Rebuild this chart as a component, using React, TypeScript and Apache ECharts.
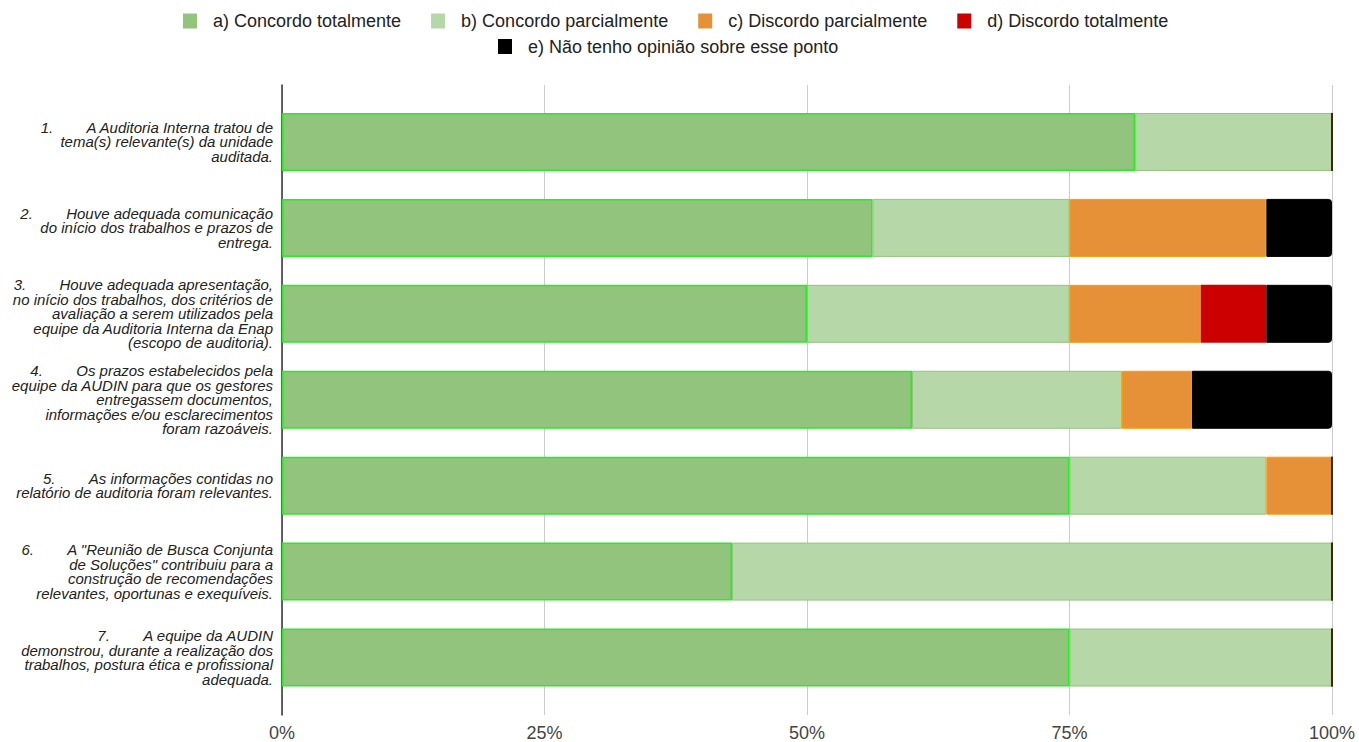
import React, { useEffect, useRef } from "react";
import * as echarts from "echarts";

const NB = "\u00a0";
const TAB = NB.repeat(8);

const categories: string[] = [
  `1.${TAB}A Auditoria Interna tratou de\ntema(s) relevante(s) da unidade\nauditada.`,
  `2.${TAB}Houve adequada comunicação\ndo início dos trabalhos e prazos de\nentrega.`,
  `3.${TAB}Houve adequada apresentação,\nno início dos trabalhos, dos critérios de\navaliação a serem utilizados pela\nequipe da Auditoria Interna da Enap\n(escopo de auditoria).`,
  `4.${TAB}Os prazos estabelecidos pela\nequipe da AUDIN para que os gestores\nentregassem documentos,\ninformações e/ou esclarecimentos\nforam razoáveis.`,
  `5.${TAB}As informações contidas no\nrelatório de auditoria foram relevantes.`,
  `6.${TAB}A "Reunião de Busca Conjunta\nde Soluções" contribuiu para a\nconstrução de recomendações\nrelevantes, oportunas e exequíveis.`,
  `7.${TAB}A equipe da AUDIN\ndemonstrou, durante a realização dos\ntrabalhos, postura ética e profissional\nadequada.`,
];

const seriesNames: string[] = [
  "a) Concordo totalmente",
  "b) Concordo parcialmente",
  "c) Discordo parcialmente",
  "d) Discordo totalmente",
  "e) Não tenho opinião sobre esse ponto",
];

const concordoTotal: number[] = [81.25, 56.25, 50, 60, 75, 42.86, 75];
const concordoParcial: number[] = [18.75, 18.75, 25, 20, 18.75, 57.14, 25];
const discordoParcial: number[] = [0, 18.75, 12.5, 6.67, 6.25, 0, 0];
const discordoTotal: number[] = [0, 0, 6.25, 0, 0, 0, 0];
const semOpiniao: number[] = [0, 6.25, 6.25, 13.33, 0, 0, 0];

const xTicks: number[] = [0, 25, 50, 75, 100];

const colors = ["#93c47d", "#b6d7a8", "#e69138", "#cc0000", "#000000"];
const borders = ["#22ee22", "#93c47d", "#ff9900", "#cc0000", "#000000"];

export default function App() {
  const ref = useRef<HTMLDivElement>(null);
  useEffect(() => {
    document.body.style.margin = "0";
    if (!ref.current) return;
    const chart = echarts.init(ref.current, undefined, { renderer: "svg" });
    const font = "'Liberation Sans', Arial, sans-serif";
    const values = [concordoTotal, concordoParcial, discordoParcial, discordoTotal, semOpiniao];
    const legendText = { fontFamily: font, fontSize: 18, color: "#222", padding: [0, 0, 0, 11] };
    const legendCommon = {
      padding: 0,
      icon: "rect",
      itemWidth: 14,
      itemHeight: 15,
      itemStyle: { borderWidth: 0 },
      textStyle: legendText,
      selectedMode: false,
    };
    const option: any = {
      animation: false,
      backgroundColor: "#ffffff",
      legend: [
        { ...legendCommon, data: seriesNames.slice(0, 4), left: 183, top: 12, itemGap: 30 },
        { ...legendCommon, data: seriesNames.slice(4), left: 498, top: 37.5 },
      ],
      grid: [
        { left: 282, right: 27, top: 99, bottom: 41.5, containLabel: false },
        { left: 282, right: 27, top: 85, bottom: 27, containLabel: false },
      ],
      xAxis: [
        { type: "value", gridIndex: 0, min: 0, max: 100, interval: 25, show: false },
        {
          type: "value",
          gridIndex: 1,
          min: xTicks[0],
          max: xTicks[xTicks.length - 1],
          interval: 25,
          axisLine: { show: false },
          axisTick: { show: false },
          splitLine: { show: true, lineStyle: { color: "#cccccc", width: 1 } },
          axisLabel: {
            formatter: (v: number) => (xTicks.includes(v) ? `${v}%` : ""),
            fontFamily: font,
            fontSize: 18,
            color: "#444",
            margin: 9,
          },
        },
      ],
      yAxis: [
        {
          type: "category",
          gridIndex: 0,
          inverse: true,
          data: categories,
          axisLine: { show: false },
          axisTick: { show: false },
          axisLabel: {
            fontFamily: font,
            fontSize: 15,
            fontStyle: "italic",
            color: "#222",
            align: "right",
            lineHeight: 14.5,
            margin: 9,
          },
        },
        {
          type: "value",
          gridIndex: 1,
          min: 0,
          max: 1,
          axisLine: { show: true, onZero: false, lineStyle: { color: "#333", width: 1.5 } },
          axisTick: { show: false },
          axisLabel: { show: false },
          splitLine: { show: false },
        },
      ],
      series: seriesNames.map((name, i) => ({
        name,
        type: "bar",
        stack: "total",
        xAxisIndex: 0,
        yAxisIndex: 0,
        barWidth: 58,
        data: values[i],
        z: 2 + i,
        itemStyle: {
          color: colors[i],
          borderColor: borders[i],
          borderWidth: i === 3 ? 0 : i === 0 ? 1.5 : 1,
          borderRadius: i === 4 ? [0, 3, 3, 0] : 0,
        },
      })),
    };
    chart.setOption(option);
    return () => chart.dispose();
  }, []);
  return <div ref={ref} style={{ width: 1359, height: 742 }} />;
}
